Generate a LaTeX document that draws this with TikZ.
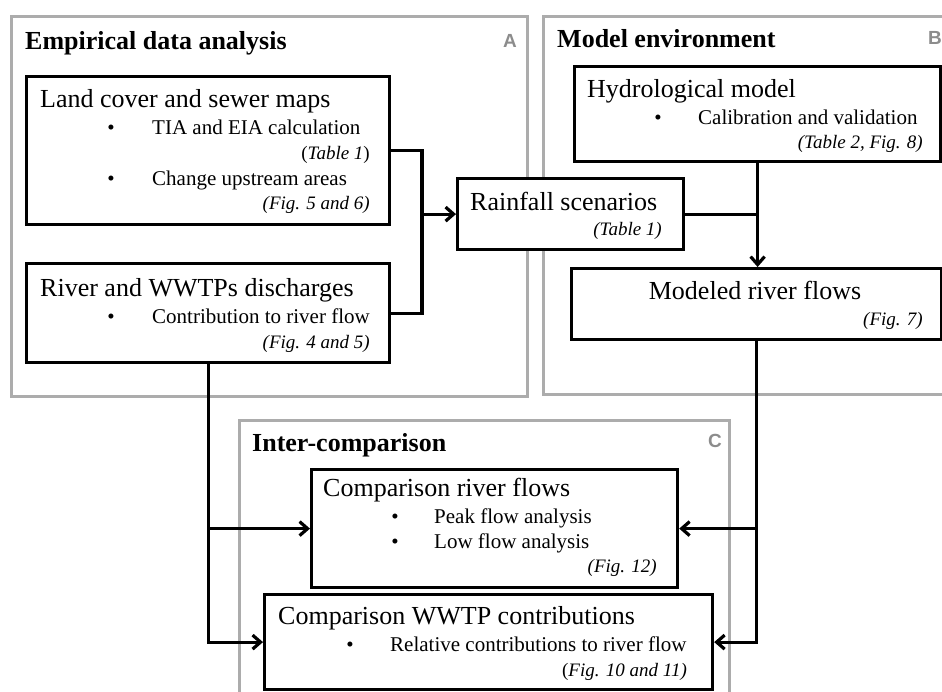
\documentclass[tikz,border=0pt]{standalone}
\usepackage{fontspec}
\setmainfont{Liberation Serif}
\newfontfamily\letterfont{Liberation Sans}
\usetikzlibrary{arrows.meta}
\definecolor{panelgray}{RGB}{172,172,172}
\definecolor{lettergray}{RGB}{140,140,140}
\begin{document}
\begin{tikzpicture}[x=1pt,y=-1pt,
  panel/.style={draw=panelgray, line width=3pt, inner sep=0pt, anchor=north west},
  box/.style={draw=black, line width=3.2pt, fill=white, inner sep=0pt, anchor=north west},
  ttl/.style={inner sep=0pt, font=\fontsize{26}{30}\selectfont\bfseries},
  head/.style={inner sep=0pt, font=\fontsize{26}{30}\selectfont},
  item/.style={inner sep=0pt, font=\fontsize{21}{25}\selectfont, anchor=base west},
  bul/.style={inner sep=0pt, font=\fontsize{21}{25}\selectfont, anchor=base},
  refs/.style={inner sep=0pt, font=\fontsize{19}{23}\selectfont, anchor=base east},
  lett/.style={inner sep=0pt, font=\fontsize{19}{23}\selectfont\letterfont\bfseries, text=lettergray, anchor=base east},
  conn/.style={line width=3.2pt, line join=miter},
  arr/.style={-{Straight Barb[length=8pt,width=14pt]}}]
\useasboundingbox (0,0) rectangle (942,691);
% panels
\node[panel, minimum width=516pt, minimum height=380pt] (pa) at (10,15) {};
\node[panel, minimum width=420pt, minimum height=378pt] (pb) at (542,15) {};
\node[panel, minimum width=490pt, minimum height=301pt] (pc) at (238,419) {};
\node[ttl, anchor=base west] (pat) at (25,49) {Empirical data analysis};
\node[lett] (pal) at (517,47) {A};
\node[ttl, anchor=base west] (pbt) at (557,47) {Model environment};
\node[lett, anchor=base west] (pbl) at (928,44) {B};
\node[ttl, anchor=base west] (pct) at (252,451) {Inter-comparison};
\node[lett] (pcl) at (722,447) {C};
% boxes
\node[box, minimum width=363pt, minimum height=148pt] (lc) at (25,75) {};
\node[box, minimum width=363pt, minimum height=99pt] (rw) at (25,262) {};
\node[box, minimum width=226pt, minimum height=71pt] (rain) at (456,177) {};
\node[box, minimum width=366pt, minimum height=95pt] (hyd) at (573,65) {};
\node[box, minimum width=370pt, minimum height=71pt] (mod) at (570,267) {};
\node[box, minimum width=366pt, minimum height=118pt] (cr) at (310,468) {};
\node[box, minimum width=448pt, minimum height=95pt] (cw) at (263,593) {};
% connectors
\coordinate (jx) at (422,0);
\draw[conn] (lc.east) -| (jx |- rw.east) -- (rw.east);
\draw[conn, arr] (jx |- rain.west) -- (rain.west);
\draw[conn, arr] (hyd.south) -- (hyd.south |- mod.north);
\draw[conn] (rain.east) -- (rain.east -| hyd.south);
\draw[conn, arr] (rw.south) |- (cw.west);
\draw[conn, arr] (rw.south |- cr.west) -- (cr.west);
\draw[conn, arr] (mod.south) |- (cw.east);
\draw[conn, arr] (mod.south |- cr.east) -- (cr.east);
% texts: land cover
\node[head, anchor=base west] (lct) at (40,107) {Land cover and sewer maps};
\node[bul] (lcb1) at (111,134) {•};
\node[item] (lci1) at (152,134) {TIA and EIA calculation};
\node[refs] (lcr1) at (370,159) {(\textit{Table 1})};
\node[bul] (lcb2) at (111,185) {•};
\node[item] (lci2) at (152,185) {Change upstream areas};
\node[refs] (lcr2) at (370,209) {\textit{(Fig. 5 and 6)}};
% river and wwtp
\node[head, anchor=base west] (rwt) at (40,296) {River and WWTPs discharges};
\node[bul] (rwb1) at (111,323) {•};
\node[item] (rwi1) at (152,323) {Contribution to river flow};
\node[refs] (rwr1) at (370,348) {\textit{(Fig. 4 and 5)}};
% rainfall
\node[head, anchor=base west] (raint) at (470,210) {Rainfall scenarios};
\node[refs] (rainr) at (662,235) {\textit{(Table 1)}};
% hydrological
\node[head, anchor=base west] (hydt) at (587,97) {Hydrological model};
\node[bul] (hydb) at (658,124) {•};
\node[item] (hydi) at (698,124) {Calibration and validation};
\node[refs] (hydr) at (923,148) {\textit{(Table 2, Fig. 8)}};
% modeled
\node[head, anchor=base] (modt) at (755,299) {Modeled river flows};
\node[refs] (modr) at (923,325) {\textit{(Fig. 7)}};
% comparison river flows
\node[head, anchor=base west] (crt) at (323,496) {Comparison river flows};
\node[bul] (crb1) at (395,523) {•};
\node[item] (cri1) at (434,523) {Peak flow analysis};
\node[bul] (crb2) at (395,548) {•};
\node[item] (cri2) at (434,548) {Low flow analysis};
\node[refs] (crr) at (657,572) {\textit{(Fig. 12)}};
% comparison wwtp
\node[head, anchor=base west] (cwt) at (278,624) {Comparison WWTP contributions};
\node[bul] (cwb) at (350,651) {•};
\node[item] (cwi) at (390,651) {Relative contributions to river flow};
\node[refs] (cwr) at (687,676) {(\textit{Fig. 10 and 11)}};
\end{tikzpicture}
\end{document}
